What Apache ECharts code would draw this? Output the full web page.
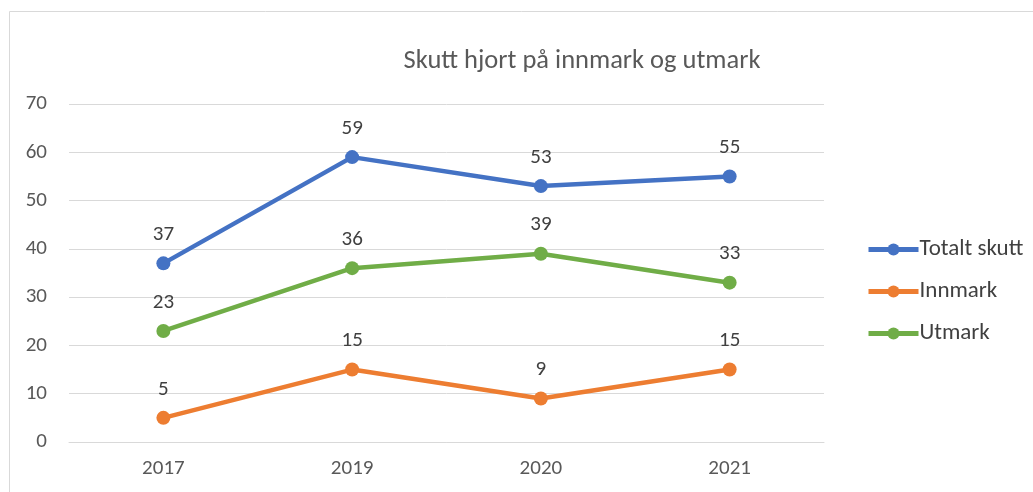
<!DOCTYPE html>
<html><head><meta charset="utf-8">
<script src="https://cdn.jsdelivr.net/npm/echarts@6/dist/echarts.min.js"></script>
<style>html,body{margin:0;padding:0;background:#fff}#c{width:1033px;height:492px}</style>
</head><body><div id="c"></div>
<script>
const categories = ['2017','2019','2020','2021'];
const totalt = [37,59,53,55];
const innmark = [5,15,9,15];
const utmark = [23,36,39,33];
const seriesNames = ['Totalt skutt','Innmark','Utmark'];
const colors = ['#4472C4','#ED7D31','#70AD47'];
const font = 'Calibri, Carlito, "Liberation Sans", "Open Sans", sans-serif';
const chart = echarts.init(document.getElementById('c'));
function s(name, data, color){
  return {name, type:'line', data, color, symbol:'circle', symbolSize:14,
    lineStyle:{width:4.5, color}, itemStyle:{color},
    label:{show:true, position:'top', distance:11, fontSize:21, color:'#404040', fontFamily:font}};
}
chart.setOption({
  animation:false,
  textStyle:{fontFamily:font},
  title:{text:'Skutt hjort på innmark og utmark', left:577, top:43, textAlign:'center',
    textStyle:{fontSize:26.5, fontWeight:'normal', color:'#595959', fontFamily:font}},
  graphic:[{type:'rect', shape:{x:9.5,y:11.5,width:1100,height:600}, style:{fill:'none', stroke:'#d9d9d9', lineWidth:1}}],
  legend:{orient:'vertical', left:861, top:233, itemGap:19, itemWidth:50, itemHeight:15,
    lineStyle:{width:5}, itemStyle:{borderWidth:0},
    data:seriesNames, textStyle:{fontSize:23, color:'#404040', fontFamily:font, padding:[0,0,0,-4]}},
  grid:{left:69, right:209, top:104, bottom:50, containLabel:false},
  xAxis:{type:'category', data:categories, boundaryGap:true,
    axisLine:{show:true, lineStyle:{color:'#d9d9d9', width:1}}, axisTick:{show:false},
    axisLabel:{fontSize:21, color:'#595959', margin:16, fontFamily:font}},
  yAxis:{type:'value', min:0, max:70, interval:10,
    axisLine:{show:false}, axisTick:{show:false},
    splitLine:{lineStyle:{color:'#d9d9d9', width:1}},
    axisLabel:{fontSize:21, color:'#595959', margin:22, fontFamily:font}},
  series:[s(seriesNames[0], totalt, colors[0]), s(seriesNames[1], innmark, colors[1]), s(seriesNames[2], utmark, colors[2])]
});
</script></body></html>
